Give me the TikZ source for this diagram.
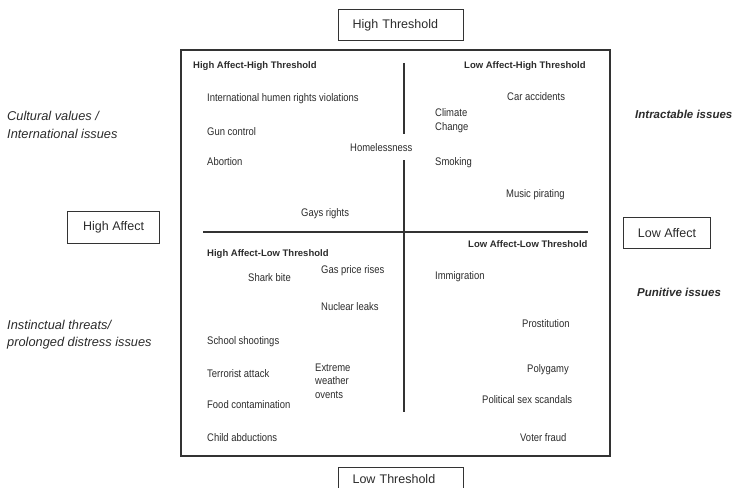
\documentclass[tikz,border=0pt]{standalone}
\usepackage{fontspec}
\setmainfont{Liberation Sans}
\newfontfamily\itemfont[FakeStretch=0.86]{Liberation Sans}
\definecolor{ink}{HTML}{2B2B2B}
\definecolor{rule}{HTML}{333333}
\begin{document}
\begin{tikzpicture}[x=1pt,y=-1pt,
  item/.style={anchor=base west, inner sep=0pt, text=ink, align=left,
    font=\itemfont\fontsize{11}{13.2}\selectfont},
  head/.style={anchor=base west, inner sep=0pt, text=ink,
    font=\bfseries\fontsize{9.5}{11}\selectfont},
  side/.style={anchor=base west, inner sep=0pt, text=ink, align=left,
    font=\itshape\fontsize{12.8}{17.5}\selectfont},
  theme/.style={anchor=base west, inner sep=0pt, text=ink,
    font=\bfseries\itshape\fontsize{11.5}{13}\selectfont},
  labbox/.style={draw=rule, line width=1.1pt, anchor=north west, inner sep=0pt,
    text=ink, font=\fontsize{12.5}{15}\selectfont},
  padbox/.style={labbox, inner xsep=14pt, text width=97pt, align=left},
  frame/.style={draw=rule, line width=1.1pt},
  divider/.style={draw=rule, line width=1.4pt}]
\useasboundingbox (0,0) rectangle (733,487);
\clip (0,0) rectangle (733,487);

% main frame and dividers
\draw[frame] (181,50) rectangle (610,456);
\coordinate (vtop) at (404,63);
\coordinate (vgap1) at (404,134);
\coordinate (vgap2) at (404,160);
\coordinate (vbot) at (404,412);
\coordinate (hleft) at (203,232);
\coordinate (hright) at (588,232);
\draw[divider] (vtop) -- (vgap1);
\draw[divider] (vgap2) -- (vbot);
\draw[divider] (hleft) -- (hright);

% axis label boxes
\node[padbox, minimum height=31pt] (hth) at (338,9) {High Threshold};
\node[padbox, minimum height=22pt] (lth) at (338,467) {Low Threshold};
\node[labbox, minimum width=92pt, minimum height=32pt] (haf) at (67,211) {High Affect};
\node[labbox, minimum width=87pt, minimum height=31pt] (laf) at (623,217) {Low Affect};

% side texts (base = last line)
\node[side] (cult) at (7,138) {Cultural values /\\International issues};
\node[side] (inst) at (7,346.5) {Instinctual threats/\\prolonged distress issues};
\node[theme] (intr) at (635,118) {Intractable issues};
\node[theme] (puni) at (637,296) {Punitive issues};

% quadrant headings
\node[head] (q1) at (193,68) {High Affect-High Threshold};
\node[head] (q2) at (464,68) {Low Affect-High Threshold};
\node[head] (q3) at (207,256) {High Affect-Low Threshold};
\node[head] (q4) at (468,247) {Low Affect-Low Threshold};

% high affect - high threshold
\node[item] (ihr) at (207,101) {International humen rights violations};
\node[item] (gun) at (207,135) {Gun control};
\node[item] (abo) at (207,165) {Abortion};
\node[item] (hom) at (350,151) {Homelessness};
\node[item] (gay) at (301,216) {Gays rights};

% low affect - high threshold
\node[item] (car) at (507,100) {Car accidents};
\node[item] (cli) at (435,130) {Climate\\Change};
\node[item] (smo) at (435,165) {Smoking};
\node[item] (mus) at (506,197) {Music pirating};

% high affect - low threshold
\node[item] (sha) at (248,281) {Shark bite};
\node[item] (gas) at (321,273) {Gas price rises};
\node[item] (nuc) at (321,310) {Nuclear leaks};
\node[item] (sch) at (207,344) {School shootings};
\node[item] (ter) at (207,377) {Terrorist attack};
\node[item] (ext) at (315,398) {Extreme\\weather\\ovents};
\node[item] (foo) at (207,408) {Food contamination};
\node[item] (chi) at (207,441) {Child abductions};

% low affect - low threshold
\node[item] (imm) at (435,279) {Immigration};
\node[item] (pro) at (522,327) {Prostitution};
\node[item] (pol) at (527,372) {Polygamy};
\node[item] (pss) at (482,403) {Political sex scandals};
\node[item] (vot) at (520,441) {Voter fraud};
\end{tikzpicture}
\end{document}
